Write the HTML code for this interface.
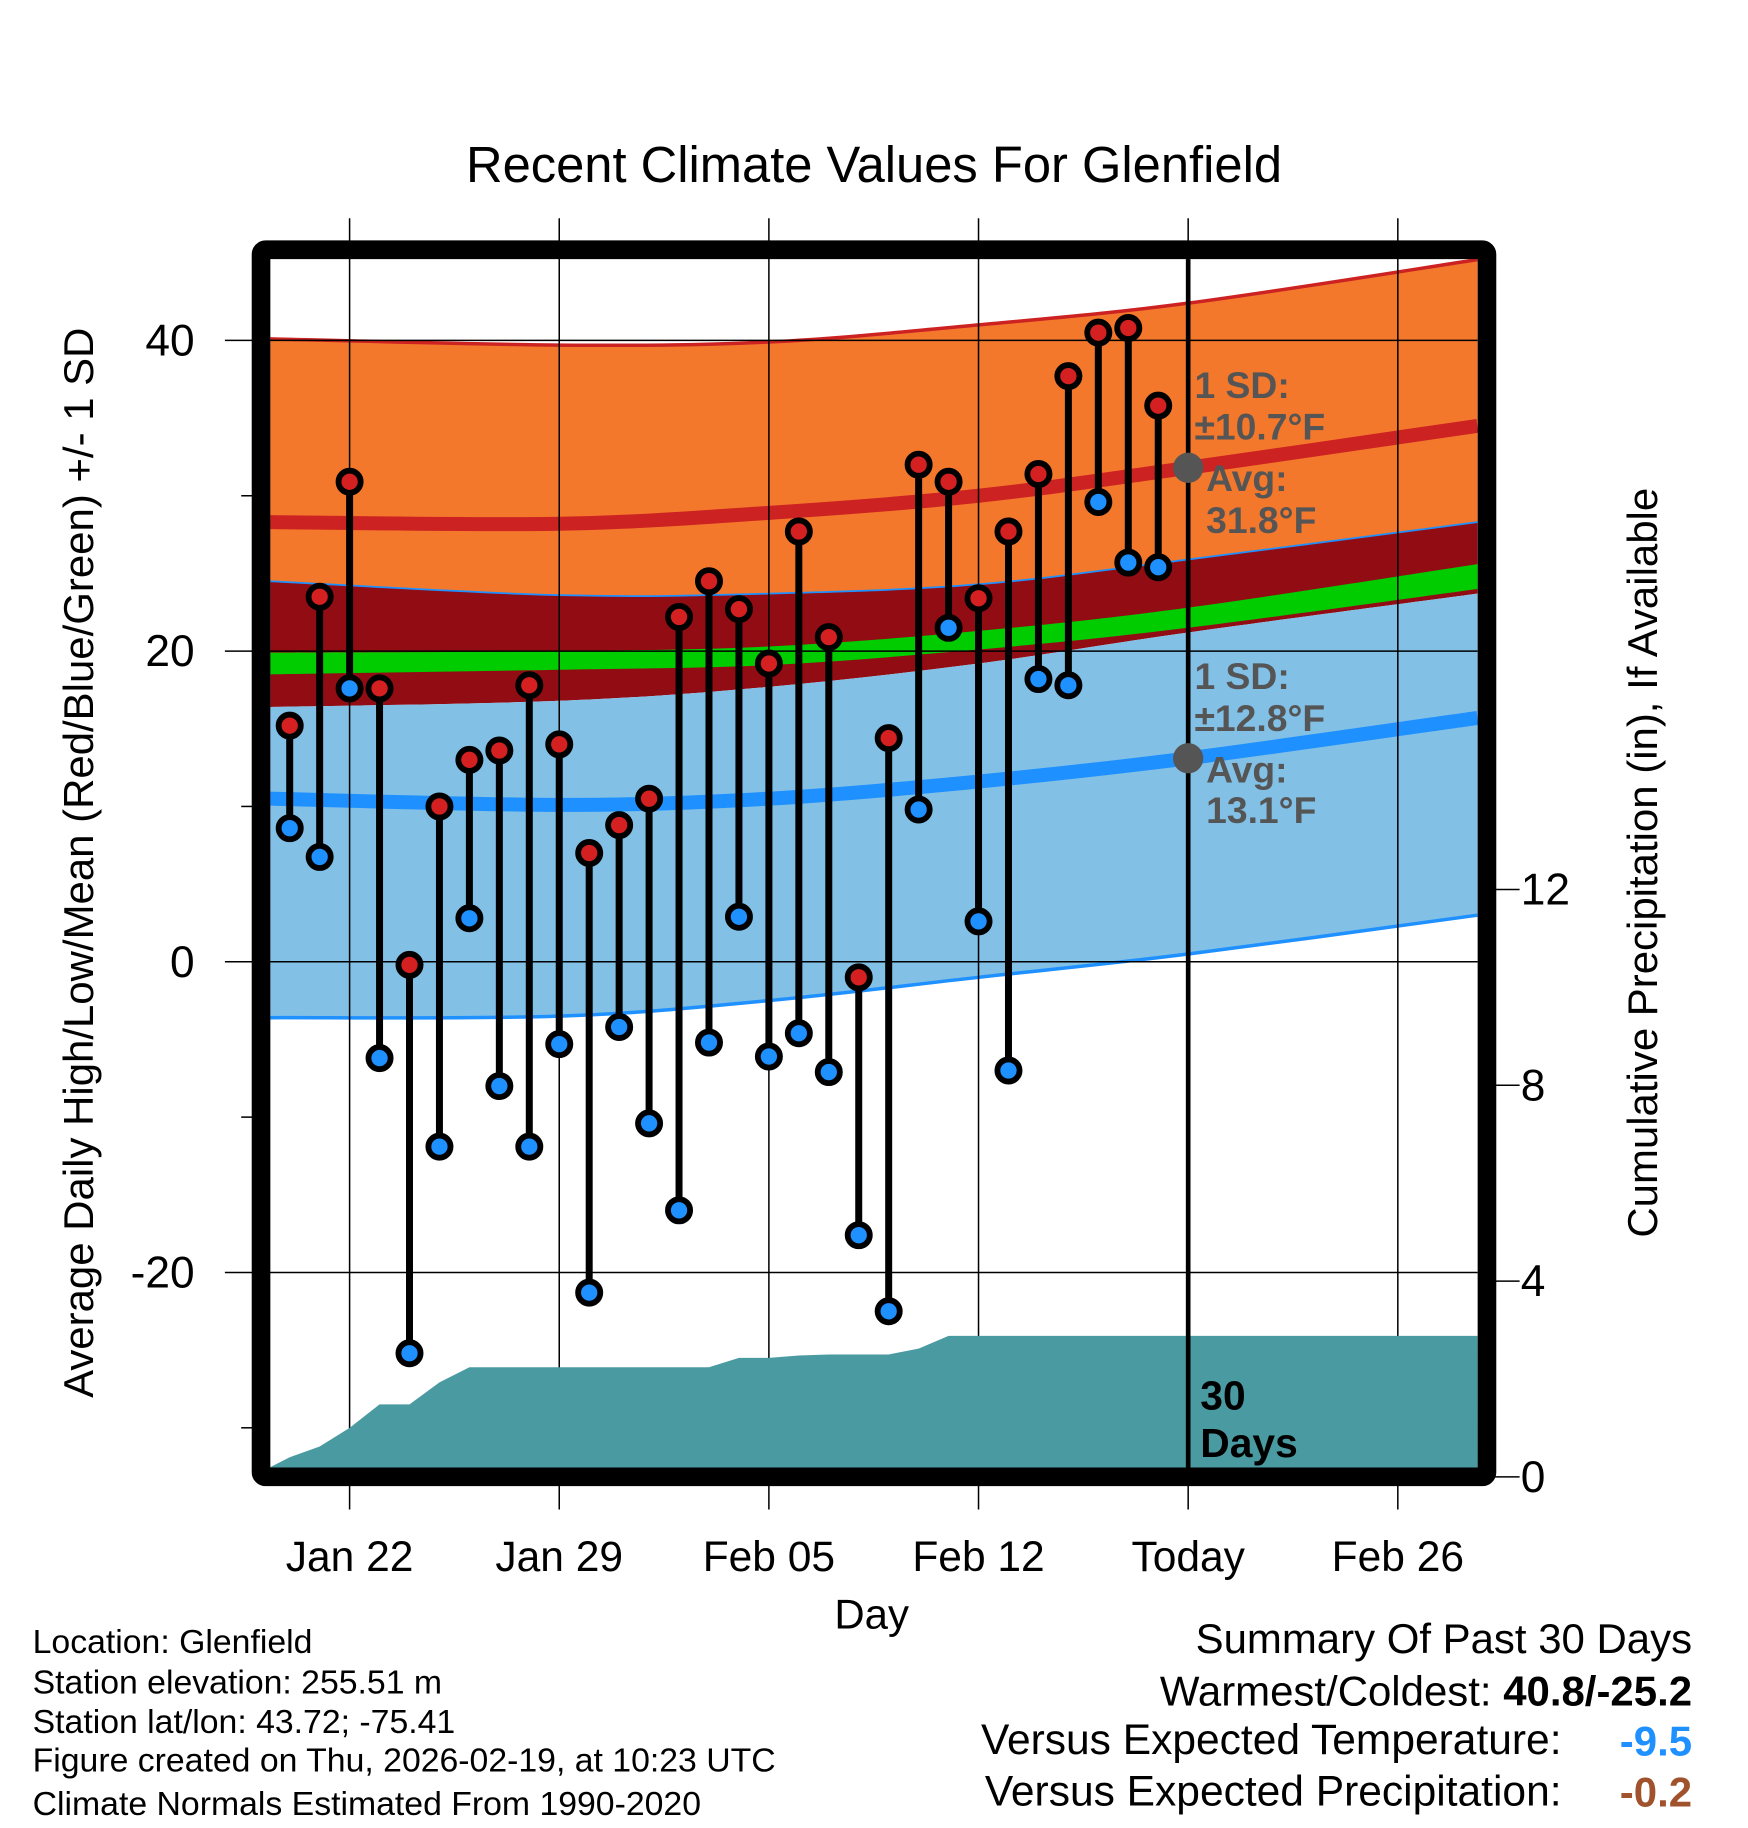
<!DOCTYPE html>
<html><head><meta charset="utf-8">
<style>
html,body{margin:0;padding:0;background:#fff;}
svg{display:block;font-family:"Liberation Sans",sans-serif;}
</style></head>
<body>
<svg id="chart" width="1748" height="1828" viewBox="0 0 1500 1568" xmlns="http://www.w3.org/2000/svg">
<g id="bands"></g>
<g id="grid"></g>
<g id="precip"></g>
<g id="marks"></g>
<g id="frame"></g>
<g id="labels"></g>
</svg>
<script>
// ---- data ----
const dayLabels = ["Jan 20","Jan 21","Jan 22","Jan 23","Jan 24","Jan 25","Jan 26","Jan 27","Jan 28","Jan 29","Jan 30","Jan 31","Feb 01","Feb 02","Feb 03","Feb 04","Feb 05","Feb 06","Feb 07","Feb 08","Feb 09","Feb 10","Feb 11","Feb 12","Feb 13","Feb 14","Feb 15","Feb 16","Feb 17","Feb 18"];
const highs = [15.2,23.5,30.9,17.6,-0.2,10.0,13.0,13.6,17.8,14.0,7.0,8.8,10.5,22.2,24.5,22.7,19.2,27.7,20.9,-1.0,14.4,32.0,30.9,23.4,27.7,31.4,37.7,40.5,40.8,35.8];
const lows = [8.6,6.75,17.6,-6.2,-25.2,-11.9,2.8,-8.0,-11.9,-5.3,-21.3,-4.2,-10.4,-16.0,-5.2,2.9,-6.1,-4.6,-7.1,-17.6,-22.5,9.8,21.5,2.6,-7.0,18.2,17.8,29.6,25.7,25.4];
const precipDays = [-2.65,-2,-1,0,1,2,3,4,5,6,7,8,9,10,11,12,13,14,15,16,17,18,19,20,21,22,23,24,25,26,27,37.66];
const precip = [0.2,0.4,0.62,1.0,1.48,1.48,1.93,2.24,2.24,2.24,2.24,2.24,2.24,2.24,2.24,2.24,2.43,2.43,2.48,2.5,2.5,2.5,2.62,2.88,2.88,2.88,2.88,2.88,2.88,2.88,2.88,2.88];
const normDays = [-2.65,7,14,21,28,37.66];
const hiPlusSD = [40.1,39.7,39.9,41.0,42.4,45.2];
const hiAvg = [28.3,28.2,28.9,30.0,31.8,34.5];
const hiMinusSD = [24.5,23.6,23.7,24.3,25.9,28.3];
const meanTop = [19.9,20.0,20.3,21.3,22.8,25.6];
const meanBot = [18.5,18.8,19.1,20.1,21.5,24.0];
const loPlusSD = [16.4,16.8,17.7,19.2,21.2,23.7];
const loAvg = [10.5,10.1,10.5,11.6,13.1,15.7];
const loMinusSD = [-3.6,-3.5,-2.5,-1.0,0.5,3.0];
const yTicks = [40,20,0,-20];
const yMinor = [30,10,-10,-30];
const pTicks = [0,4,8,12];
const xTickDays = [0,7,14,21,28,35];
const xTickLabels = ["Jan 22","Jan 29","Feb 05","Feb 12","Today","Feb 26"];

// ---- axes ----
const L=232,R=1268,T=222,B=1259;
const X = d => 300 + d*25.7;
const Y = v => 825 - v*13.33;
const P = p => 1267 - p*42;
const firstDay = -2;
const NS="http://www.w3.org/2000/svg";
function mk(parent, tag, attrs, text){
  const e=document.createElementNS(NS,tag);
  for(const k in attrs) e.setAttribute(k,attrs[k]);
  if(text!==undefined) e.textContent=text;
  document.getElementById(parent).appendChild(e);
  return e;
}
function curve(vals){ return normDays.map((d,i)=>[X(d),Y(vals[i])]); }
function smooth(pts){
  let s=`M${pts[0][0]},${pts[0][1]}`;
  for(let i=0;i<pts.length-1;i++){
    const p0=pts[Math.max(0,i-1)],p1=pts[i],p2=pts[i+1],p3=pts[Math.min(pts.length-1,i+2)];
    s+=` C${p1[0]+(p2[0]-p0[0])/6},${p1[1]+(p2[1]-p0[1])/6} ${p2[0]-(p3[0]-p1[0])/6},${p2[1]-(p3[1]-p1[1])/6} ${p2[0]},${p2[1]}`;
  }
  return s;
}
function band(top,bot){
  const a=smooth(curve(top));
  const bp=curve(bot).reverse();
  return a+" L"+smooth(bp).slice(1)+" Z";
}
let e;
e=mk('bands','path',{d:band(hiPlusSD,hiMinusSD),fill:'#f4782c'});


e=mk('bands','path',{d:smooth(curve(hiPlusSD)),fill:'none',stroke:'#cc2222',"stroke-width":3});


e=mk('bands','path',{d:band(hiMinusSD,loPlusSD),fill:'#920c14'});


e=mk('bands','path',{d:band(meanTop,meanBot),fill:'#00cc00'});


e=mk('bands','path',{d:band(loPlusSD,loMinusSD),fill:'#82c0e6'});


e=mk('bands','path',{d:smooth(curve(hiMinusSD)),fill:'none',stroke:'#1e90ff',"stroke-width":1.5});


e=mk('bands','path',{d:smooth(curve(loMinusSD)),fill:'none',stroke:'#1e90ff',"stroke-width":3});


e=mk('bands','path',{d:smooth(curve(hiAvg)),fill:'none',stroke:'#cc2222',"stroke-width":12});


e=mk('bands','path',{d:smooth(curve(loAvg)),fill:'none',stroke:'#1e90ff',"stroke-width":12});



// grid
xTickDays.forEach((d,i)=>{
  e=mk('grid','line',{x1:X(d),x2:X(d),y1:187,y2:1295,stroke:'#000',"stroke-width":1.3});
  
  
  e=mk('labels','text',{x:X(d),y:1348,"text-anchor":"middle","font-size":36.5},xTickLabels[i]);
  
  
});
yTicks.forEach(v=>{
  e=mk('grid','line',{x1:193,x2:R,y1:Y(v),y2:Y(v),stroke:'#000',"stroke-width":1.3});
  
  
  e=mk('labels','text',{x:167,y:Y(v)+13,"text-anchor":"end","font-size":38},String(v));
  
  
});
yMinor.forEach(v=>{
  e=mk('grid','line',{x1:207,x2:220,y1:Y(v),y2:Y(v),stroke:'#000',"stroke-width":1.3});
  
  
});
pTicks.forEach(p=>{
  e=mk('grid','line',{x1:1280,x2:1304,y1:P(p),y2:P(p),stroke:'#000',"stroke-width":1.3});
  
  
  e=mk('labels','text',{x:1305,y:P(p)+13,"font-size":38},String(p));
  
  
});

// precip
let pd=`M${X(precipDays[0])},${B}`;
precipDays.forEach((d,i)=>{ pd+=` L${Math.min(R,Math.max(L,X(d)))},${Math.max(P(precip[i]),T)}`; });
pd+=` L${R},${B} Z`;
e=mk('precip','path',{d:pd,fill:'#4a9aa2'});



// today line
e=mk('marks','line',{x1:X(28),x2:X(28),y1:T,y2:B,stroke:'#000',"stroke-width":4});



// stems and markers
highs.forEach((h,i)=>{
  const x=X(firstDay+i);
  e=mk('marks','line',{x1:x,x2:x,y1:Y(h),y2:Y(lows[i]),stroke:'#000',"stroke-width":6});
  
  
});
highs.forEach((h,i)=>{
  const x=X(firstDay+i);
  e=mk('marks','circle',{cx:x,cy:Y(h),r:9.5,fill:'#d42020',stroke:'#000',"stroke-width":5});
  
  
  e=mk('marks','circle',{cx:x,cy:Y(lows[i]),r:9.5,fill:'#1e90ff',stroke:'#000',"stroke-width":5});
  
  
});
e=mk('marks','circle',{cx:X(28),cy:Y(hiAvg[4]),r:13,fill:'#555'});


e=mk('marks','circle',{cx:X(28),cy:Y(loAvg[4]),r:13,fill:'#555'});



// frame
e=mk('frame','rect',{x:224,y:214,width:1052,height:1053,fill:'none',stroke:'#000',"stroke-width":16,rx:4});


</script>
<script>
(function(){
const NS="http://www.w3.org/2000/svg";
const g=document.getElementById('labels');
function t(name,x,y,size,txt,opts){
  const e=document.createElementNS(NS,'text');
  e.setAttribute('x',x);e.setAttribute('y',y);e.setAttribute('font-size',size);
  if(opts) for(const k in opts) e.setAttribute(k,opts[k]);
  e.textContent=txt;
  
  
  g.appendChild(e);return e;
}
t('chart-title',750,156,43.5,'Recent Climate Values For Glenfield',{"text-anchor":"middle"});
t('x-axis-title',748,1397,36,'Day',{"text-anchor":"middle"});
t('y-axis-title',80,740,36,'Average Daily High/Low/Mean (Red/Blue/Green) +/- 1 SD',{"text-anchor":"middle",transform:"rotate(-90 80 740)"});
t('precip-axis-title',1422,740,36,'Cumulative Precipitation (in), If Available',{"text-anchor":"middle",transform:"rotate(-90 1422 740)"});
const gs={fill:'#555',"font-weight":"bold"};
t('high-sd-label',1025,341,32,'1 SD:',gs);
t('high-sd-value',1025,377,32,'±10.7°F',gs);
t('high-avg-label',1035,421,32,'Avg:',gs);
t('high-avg-value',1035,457,32,'31.8°F',gs);
t('low-sd-label',1025,591,32,'1 SD:',gs);
t('low-sd-value',1025,627,32,'±12.8°F',gs);
t('low-avg-label',1035,671,32,'Avg:',gs);
t('low-avg-value',1035,706,32,'13.1°F',gs);
t('days-label',1030,1209,35,'30',{"font-weight":"bold"});
t('days-label-2',1030,1250,35,'Days',{"font-weight":"bold"});
const foot=['Location: Glenfield','Station elevation: 255.51 m','Station lat/lon: 43.72; -75.41','Figure created on Thu, 2026-02-19, at 10:23 UTC','Climate Normals Estimated From 1990-2020'];
const fy=[1418,1453,1487,1520,1557];
foot.forEach((s,i)=>t('footer-info-line',28,fy[i],29,s));
t('summary-title',1452,1418,36,'Summary Of Past 30 Days',{"text-anchor":"end"});
const w=t('warmest-coldest',1452,1463,36,'Warmest/Coldest: ',{"text-anchor":"end"});
const b=document.createElementNS(NS,'tspan');b.setAttribute('font-weight','bold');b.textContent='40.8/-25.2';w.appendChild(b);
t('temp-vs-expected-label',1340,1505,36.5,'Versus Expected Temperature:',{"text-anchor":"end"});
t('temp-vs-expected-value',1452,1506,36,'-9.5',{"text-anchor":"end",fill:'#1e90ff',"font-weight":"bold"});
t('precip-vs-expected-label',1340,1549,36.5,'Versus Expected Precipitation:',{"text-anchor":"end"});
t('precip-vs-expected-value',1452,1550,36,'-0.2',{"text-anchor":"end",fill:'#a0522d',"font-weight":"bold"});
})();
</script>
</body></html>
